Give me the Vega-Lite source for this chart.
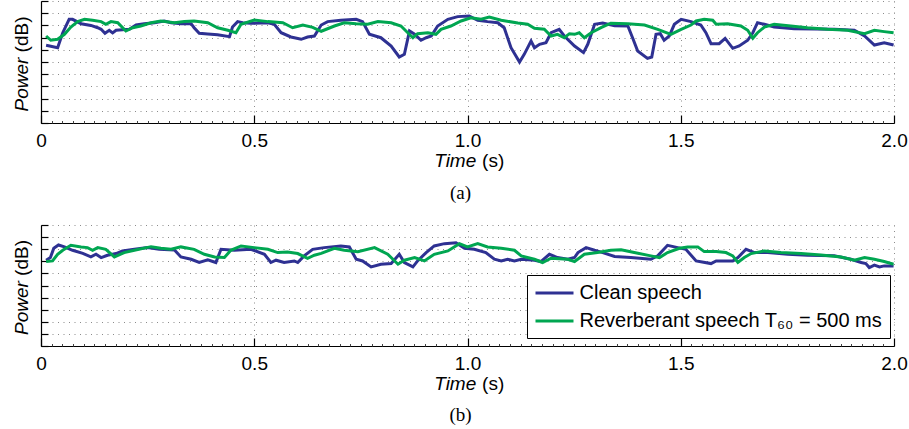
{
  "$schema": "https://vega.github.io/schema/vega-lite/v6.json",
  "padding": {"left": 11, "top": 0, "right": 0, "bottom": 0},
  "bounds": "flush",
  "spacing": 102,
  "background": "white",
  "config": {
    "view": {"stroke": null},
    "font": "Liberation Sans",
    "axis": {
      "labelFont": "Liberation Sans", "labelFontSize": 19, "labelColor": "black",
      "titleFont": "Liberation Sans", "titleFontSize": 19, "titleColor": "black", "titleFontWeight": "normal",
      "domainColor": "black", "tickColor": "black", "domainWidth": 1.2, "tickWidth": 1.2,
      "gridColor": "#777", "gridDash": [1, 4.5], "gridWidth": 1, "gridOpacity": 0.85
    }
  },
  "datasets": {
    "a": [
      {"t":0.012,"v":6.37,"s":"Clean speech"},{"t":0.039,"v":6.17,"s":"Clean speech"},{"t":0.051,"v":7.40,"s":"Clean speech"},{"t":0.066,"v":8.50,"s":"Clean speech"},{"t":0.074,"v":8.50,"s":"Clean speech"},{"t":0.094,"v":8.14,"s":"Clean speech"},{"t":0.117,"v":8.00,"s":"Clean speech"},{"t":0.133,"v":7.81,"s":"Clean speech"},{"t":0.141,"v":7.68,"s":"Clean speech"},{"t":0.150,"v":7.35,"s":"Clean speech"},{"t":0.160,"v":7.60,"s":"Clean speech"},{"t":0.168,"v":7.38,"s":"Clean speech"},{"t":0.176,"v":7.60,"s":"Clean speech"},{"t":0.191,"v":7.65,"s":"Clean speech"},{"t":0.207,"v":7.68,"s":"Clean speech"},{"t":0.223,"v":8.03,"s":"Clean speech"},{"t":0.242,"v":8.14,"s":"Clean speech"},{"t":0.266,"v":8.22,"s":"Clean speech"},{"t":0.289,"v":8.36,"s":"Clean speech"},{"t":0.305,"v":8.22,"s":"Clean speech"},{"t":0.328,"v":8.14,"s":"Clean speech"},{"t":0.352,"v":8.14,"s":"Clean speech"},{"t":0.359,"v":7.81,"s":"Clean speech"},{"t":0.371,"v":7.35,"s":"Clean speech"},{"t":0.391,"v":7.30,"s":"Clean speech"},{"t":0.414,"v":7.24,"s":"Clean speech"},{"t":0.442,"v":7.08,"s":"Clean speech"},{"t":0.449,"v":7.87,"s":"Clean speech"},{"t":0.461,"v":8.31,"s":"Clean speech"},{"t":0.473,"v":8.22,"s":"Clean speech"},{"t":0.492,"v":8.17,"s":"Clean speech"},{"t":0.532,"v":8.22,"s":"Clean speech"},{"t":0.547,"v":8.09,"s":"Clean speech"},{"t":0.563,"v":7.40,"s":"Clean speech"},{"t":0.586,"v":7.05,"s":"Clean speech"},{"t":0.610,"v":6.86,"s":"Clean speech"},{"t":0.625,"v":7.05,"s":"Clean speech"},{"t":0.641,"v":7.13,"s":"Clean speech"},{"t":0.657,"v":8.03,"s":"Clean speech"},{"t":0.672,"v":8.31,"s":"Clean speech"},{"t":0.703,"v":8.42,"s":"Clean speech"},{"t":0.739,"v":8.50,"s":"Clean speech"},{"t":0.754,"v":8.31,"s":"Clean speech"},{"t":0.770,"v":7.27,"s":"Clean speech"},{"t":0.797,"v":6.99,"s":"Clean speech"},{"t":0.821,"v":6.31,"s":"Clean speech"},{"t":0.840,"v":5.41,"s":"Clean speech"},{"t":0.852,"v":5.63,"s":"Clean speech"},{"t":0.864,"v":7.54,"s":"Clean speech"},{"t":0.876,"v":7.27,"s":"Clean speech"},{"t":0.891,"v":6.78,"s":"Clean speech"},{"t":0.903,"v":6.99,"s":"Clean speech"},{"t":0.915,"v":7.13,"s":"Clean speech"},{"t":0.930,"v":7.95,"s":"Clean speech"},{"t":0.954,"v":8.50,"s":"Clean speech"},{"t":0.977,"v":8.72,"s":"Clean speech"},{"t":1.004,"v":8.77,"s":"Clean speech"},{"t":1.024,"v":8.42,"s":"Clean speech"},{"t":1.047,"v":8.31,"s":"Clean speech"},{"t":1.071,"v":8.22,"s":"Clean speech"},{"t":1.086,"v":7.81,"s":"Clean speech"},{"t":1.102,"v":6.17,"s":"Clean speech"},{"t":1.122,"v":5.00,"s":"Clean speech"},{"t":1.133,"v":5.63,"s":"Clean speech"},{"t":1.149,"v":6.72,"s":"Clean speech"},{"t":1.157,"v":6.17,"s":"Clean speech"},{"t":1.169,"v":6.45,"s":"Clean speech"},{"t":1.184,"v":6.58,"s":"Clean speech"},{"t":1.196,"v":7.40,"s":"Clean speech"},{"t":1.215,"v":7.68,"s":"Clean speech"},{"t":1.227,"v":7.13,"s":"Clean speech"},{"t":1.251,"v":6.31,"s":"Clean speech"},{"t":1.272,"v":5.77,"s":"Clean speech"},{"t":1.282,"v":6.45,"s":"Clean speech"},{"t":1.298,"v":8.09,"s":"Clean speech"},{"t":1.317,"v":8.20,"s":"Clean speech"},{"t":1.345,"v":7.98,"s":"Clean speech"},{"t":1.376,"v":7.95,"s":"Clean speech"},{"t":1.387,"v":6.99,"s":"Clean speech"},{"t":1.399,"v":5.90,"s":"Clean speech"},{"t":1.422,"v":5.30,"s":"Clean speech"},{"t":1.432,"v":5.41,"s":"Clean speech"},{"t":1.442,"v":7.27,"s":"Clean speech"},{"t":1.452,"v":7.32,"s":"Clean speech"},{"t":1.461,"v":6.78,"s":"Clean speech"},{"t":1.473,"v":7.13,"s":"Clean speech"},{"t":1.485,"v":8.09,"s":"Clean speech"},{"t":1.501,"v":8.50,"s":"Clean speech"},{"t":1.524,"v":8.31,"s":"Clean speech"},{"t":1.547,"v":8.03,"s":"Clean speech"},{"t":1.559,"v":7.40,"s":"Clean speech"},{"t":1.571,"v":6.50,"s":"Clean speech"},{"t":1.590,"v":6.50,"s":"Clean speech"},{"t":1.604,"v":6.94,"s":"Clean speech"},{"t":1.622,"v":6.12,"s":"Clean speech"},{"t":1.637,"v":6.31,"s":"Clean speech"},{"t":1.657,"v":6.78,"s":"Clean speech"},{"t":1.669,"v":7.40,"s":"Clean speech"},{"t":1.680,"v":8.22,"s":"Clean speech"},{"t":1.696,"v":8.09,"s":"Clean speech"},{"t":1.719,"v":7.87,"s":"Clean speech"},{"t":1.766,"v":7.73,"s":"Clean speech"},{"t":1.813,"v":7.70,"s":"Clean speech"},{"t":1.860,"v":7.68,"s":"Clean speech"},{"t":1.907,"v":7.60,"s":"Clean speech"},{"t":1.931,"v":7.13,"s":"Clean speech"},{"t":1.954,"v":6.39,"s":"Clean speech"},{"t":1.977,"v":6.58,"s":"Clean speech"},{"t":1.999,"v":6.39,"s":"Clean speech"},
      {"t":0.012,"v":7.13,"s":"Reverberant speech T₆₀ = 500 ms"},{"t":0.023,"v":6.78,"s":"Reverberant speech T₆₀ = 500 ms"},{"t":0.039,"v":6.86,"s":"Reverberant speech T₆₀ = 500 ms"},{"t":0.055,"v":7.27,"s":"Reverberant speech T₆₀ = 500 ms"},{"t":0.070,"v":7.87,"s":"Reverberant speech T₆₀ = 500 ms"},{"t":0.086,"v":8.31,"s":"Reverberant speech T₆₀ = 500 ms"},{"t":0.102,"v":8.50,"s":"Reverberant speech T₆₀ = 500 ms"},{"t":0.121,"v":8.42,"s":"Reverberant speech T₆₀ = 500 ms"},{"t":0.141,"v":8.31,"s":"Reverberant speech T₆₀ = 500 ms"},{"t":0.152,"v":8.09,"s":"Reverberant speech T₆₀ = 500 ms"},{"t":0.164,"v":8.31,"s":"Reverberant speech T₆₀ = 500 ms"},{"t":0.180,"v":8.22,"s":"Reverberant speech T₆₀ = 500 ms"},{"t":0.199,"v":7.54,"s":"Reverberant speech T₆₀ = 500 ms"},{"t":0.215,"v":7.81,"s":"Reverberant speech T₆₀ = 500 ms"},{"t":0.234,"v":7.95,"s":"Reverberant speech T₆₀ = 500 ms"},{"t":0.258,"v":8.22,"s":"Reverberant speech T₆₀ = 500 ms"},{"t":0.281,"v":8.36,"s":"Reverberant speech T₆₀ = 500 ms"},{"t":0.313,"v":8.22,"s":"Reverberant speech T₆₀ = 500 ms"},{"t":0.336,"v":8.31,"s":"Reverberant speech T₆₀ = 500 ms"},{"t":0.359,"v":8.36,"s":"Reverberant speech T₆₀ = 500 ms"},{"t":0.391,"v":8.22,"s":"Reverberant speech T₆₀ = 500 ms"},{"t":0.414,"v":7.81,"s":"Reverberant speech T₆₀ = 500 ms"},{"t":0.438,"v":7.60,"s":"Reverberant speech T₆₀ = 500 ms"},{"t":0.457,"v":7.40,"s":"Reverberant speech T₆₀ = 500 ms"},{"t":0.469,"v":8.09,"s":"Reverberant speech T₆₀ = 500 ms"},{"t":0.500,"v":8.44,"s":"Reverberant speech T₆₀ = 500 ms"},{"t":0.532,"v":8.31,"s":"Reverberant speech T₆₀ = 500 ms"},{"t":0.567,"v":8.22,"s":"Reverberant speech T₆₀ = 500 ms"},{"t":0.590,"v":7.81,"s":"Reverberant speech T₆₀ = 500 ms"},{"t":0.614,"v":8.03,"s":"Reverberant speech T₆₀ = 500 ms"},{"t":0.637,"v":7.84,"s":"Reverberant speech T₆₀ = 500 ms"},{"t":0.657,"v":7.52,"s":"Reverberant speech T₆₀ = 500 ms"},{"t":0.688,"v":7.95,"s":"Reverberant speech T₆₀ = 500 ms"},{"t":0.711,"v":8.22,"s":"Reverberant speech T₆₀ = 500 ms"},{"t":0.739,"v":8.14,"s":"Reverberant speech T₆₀ = 500 ms"},{"t":0.766,"v":8.09,"s":"Reverberant speech T₆₀ = 500 ms"},{"t":0.790,"v":8.31,"s":"Reverberant speech T₆₀ = 500 ms"},{"t":0.821,"v":8.22,"s":"Reverberant speech T₆₀ = 500 ms"},{"t":0.844,"v":7.95,"s":"Reverberant speech T₆₀ = 500 ms"},{"t":0.860,"v":7.40,"s":"Reverberant speech T₆₀ = 500 ms"},{"t":0.872,"v":6.99,"s":"Reverberant speech T₆₀ = 500 ms"},{"t":0.883,"v":7.32,"s":"Reverberant speech T₆₀ = 500 ms"},{"t":0.907,"v":7.40,"s":"Reverberant speech T₆₀ = 500 ms"},{"t":0.926,"v":7.27,"s":"Reverberant speech T₆₀ = 500 ms"},{"t":0.938,"v":7.68,"s":"Reverberant speech T₆₀ = 500 ms"},{"t":0.961,"v":7.95,"s":"Reverberant speech T₆₀ = 500 ms"},{"t":0.985,"v":8.36,"s":"Reverberant speech T₆₀ = 500 ms"},{"t":1.008,"v":8.63,"s":"Reverberant speech T₆₀ = 500 ms"},{"t":1.032,"v":8.50,"s":"Reverberant speech T₆₀ = 500 ms"},{"t":1.051,"v":8.69,"s":"Reverberant speech T₆₀ = 500 ms"},{"t":1.079,"v":8.42,"s":"Reverberant speech T₆₀ = 500 ms"},{"t":1.118,"v":8.20,"s":"Reverberant speech T₆₀ = 500 ms"},{"t":1.141,"v":8.09,"s":"Reverberant speech T₆₀ = 500 ms"},{"t":1.157,"v":7.76,"s":"Reverberant speech T₆₀ = 500 ms"},{"t":1.180,"v":7.68,"s":"Reverberant speech T₆₀ = 500 ms"},{"t":1.196,"v":7.13,"s":"Reverberant speech T₆₀ = 500 ms"},{"t":1.211,"v":7.27,"s":"Reverberant speech T₆₀ = 500 ms"},{"t":1.227,"v":6.99,"s":"Reverberant speech T₆₀ = 500 ms"},{"t":1.239,"v":7.32,"s":"Reverberant speech T₆₀ = 500 ms"},{"t":1.251,"v":7.27,"s":"Reverberant speech T₆₀ = 500 ms"},{"t":1.262,"v":7.40,"s":"Reverberant speech T₆₀ = 500 ms"},{"t":1.274,"v":6.99,"s":"Reverberant speech T₆₀ = 500 ms"},{"t":1.290,"v":7.40,"s":"Reverberant speech T₆₀ = 500 ms"},{"t":1.313,"v":7.81,"s":"Reverberant speech T₆₀ = 500 ms"},{"t":1.336,"v":8.18,"s":"Reverberant speech T₆₀ = 500 ms"},{"t":1.376,"v":8.14,"s":"Reverberant speech T₆₀ = 500 ms"},{"t":1.415,"v":8.03,"s":"Reverberant speech T₆₀ = 500 ms"},{"t":1.446,"v":7.68,"s":"Reverberant speech T₆₀ = 500 ms"},{"t":1.477,"v":7.27,"s":"Reverberant speech T₆₀ = 500 ms"},{"t":1.501,"v":7.68,"s":"Reverberant speech T₆₀ = 500 ms"},{"t":1.524,"v":8.03,"s":"Reverberant speech T₆₀ = 500 ms"},{"t":1.536,"v":8.36,"s":"Reverberant speech T₆₀ = 500 ms"},{"t":1.555,"v":8.50,"s":"Reverberant speech T₆₀ = 500 ms"},{"t":1.575,"v":8.42,"s":"Reverberant speech T₆₀ = 500 ms"},{"t":1.583,"v":8.09,"s":"Reverberant speech T₆₀ = 500 ms"},{"t":1.610,"v":8.14,"s":"Reverberant speech T₆₀ = 500 ms"},{"t":1.641,"v":7.95,"s":"Reverberant speech T₆₀ = 500 ms"},{"t":1.657,"v":7.60,"s":"Reverberant speech T₆₀ = 500 ms"},{"t":1.669,"v":6.94,"s":"Reverberant speech T₆₀ = 500 ms"},{"t":1.680,"v":7.40,"s":"Reverberant speech T₆₀ = 500 ms"},{"t":1.696,"v":7.87,"s":"Reverberant speech T₆₀ = 500 ms"},{"t":1.719,"v":8.09,"s":"Reverberant speech T₆₀ = 500 ms"},{"t":1.758,"v":7.95,"s":"Reverberant speech T₆₀ = 500 ms"},{"t":1.797,"v":7.81,"s":"Reverberant speech T₆₀ = 500 ms"},{"t":1.844,"v":7.68,"s":"Reverberant speech T₆₀ = 500 ms"},{"t":1.891,"v":7.60,"s":"Reverberant speech T₆₀ = 500 ms"},{"t":1.931,"v":7.32,"s":"Reverberant speech T₆₀ = 500 ms"},{"t":1.954,"v":7.60,"s":"Reverberant speech T₆₀ = 500 ms"},{"t":1.977,"v":7.49,"s":"Reverberant speech T₆₀ = 500 ms"},{"t":1.999,"v":7.40,"s":"Reverberant speech T₆₀ = 500 ms"}
    ],
    "b": [
      {"t":0.012,"v":7.09,"s":"Clean speech"},{"t":0.022,"v":7.31,"s":"Clean speech"},{"t":0.030,"v":8.08,"s":"Clean speech"},{"t":0.041,"v":8.35,"s":"Clean speech"},{"t":0.055,"v":8.19,"s":"Clean speech"},{"t":0.074,"v":7.91,"s":"Clean speech"},{"t":0.098,"v":7.66,"s":"Clean speech"},{"t":0.117,"v":7.36,"s":"Clean speech"},{"t":0.129,"v":7.58,"s":"Clean speech"},{"t":0.141,"v":7.31,"s":"Clean speech"},{"t":0.156,"v":7.50,"s":"Clean speech"},{"t":0.176,"v":7.64,"s":"Clean speech"},{"t":0.191,"v":7.86,"s":"Clean speech"},{"t":0.219,"v":7.99,"s":"Clean speech"},{"t":0.250,"v":8.13,"s":"Clean speech"},{"t":0.277,"v":7.99,"s":"Clean speech"},{"t":0.313,"v":7.94,"s":"Clean speech"},{"t":0.328,"v":7.36,"s":"Clean speech"},{"t":0.352,"v":7.17,"s":"Clean speech"},{"t":0.371,"v":6.90,"s":"Clean speech"},{"t":0.391,"v":7.12,"s":"Clean speech"},{"t":0.410,"v":6.90,"s":"Clean speech"},{"t":0.422,"v":7.99,"s":"Clean speech"},{"t":0.453,"v":7.91,"s":"Clean speech"},{"t":0.492,"v":7.99,"s":"Clean speech"},{"t":0.524,"v":7.58,"s":"Clean speech"},{"t":0.539,"v":6.90,"s":"Clean speech"},{"t":0.551,"v":7.09,"s":"Clean speech"},{"t":0.570,"v":6.90,"s":"Clean speech"},{"t":0.594,"v":7.03,"s":"Clean speech"},{"t":0.602,"v":6.90,"s":"Clean speech"},{"t":0.617,"v":7.45,"s":"Clean speech"},{"t":0.637,"v":7.99,"s":"Clean speech"},{"t":0.664,"v":8.13,"s":"Clean speech"},{"t":0.703,"v":8.27,"s":"Clean speech"},{"t":0.723,"v":8.19,"s":"Clean speech"},{"t":0.739,"v":7.17,"s":"Clean speech"},{"t":0.754,"v":7.03,"s":"Clean speech"},{"t":0.774,"v":6.54,"s":"Clean speech"},{"t":0.797,"v":6.76,"s":"Clean speech"},{"t":0.821,"v":6.81,"s":"Clean speech"},{"t":0.840,"v":7.58,"s":"Clean speech"},{"t":0.852,"v":6.90,"s":"Clean speech"},{"t":0.872,"v":6.54,"s":"Clean speech"},{"t":0.883,"v":7.03,"s":"Clean speech"},{"t":0.903,"v":7.72,"s":"Clean speech"},{"t":0.922,"v":8.27,"s":"Clean speech"},{"t":0.946,"v":8.46,"s":"Clean speech"},{"t":0.973,"v":8.54,"s":"Clean speech"},{"t":0.993,"v":8.08,"s":"Clean speech"},{"t":1.016,"v":7.99,"s":"Clean speech"},{"t":1.043,"v":7.72,"s":"Clean speech"},{"t":1.063,"v":7.17,"s":"Clean speech"},{"t":1.079,"v":7.03,"s":"Clean speech"},{"t":1.094,"v":7.17,"s":"Clean speech"},{"t":1.110,"v":7.03,"s":"Clean speech"},{"t":1.126,"v":7.17,"s":"Clean speech"},{"t":1.157,"v":7.09,"s":"Clean speech"},{"t":1.172,"v":6.98,"s":"Clean speech"},{"t":1.192,"v":7.58,"s":"Clean speech"},{"t":1.211,"v":7.31,"s":"Clean speech"},{"t":1.235,"v":7.17,"s":"Clean speech"},{"t":1.251,"v":7.31,"s":"Clean speech"},{"t":1.259,"v":7.72,"s":"Clean speech"},{"t":1.278,"v":8.13,"s":"Clean speech"},{"t":1.298,"v":7.91,"s":"Clean speech"},{"t":1.317,"v":7.72,"s":"Clean speech"},{"t":1.345,"v":7.40,"s":"Clean speech"},{"t":1.383,"v":7.31,"s":"Clean speech"},{"t":1.430,"v":7.17,"s":"Clean speech"},{"t":1.446,"v":7.45,"s":"Clean speech"},{"t":1.469,"v":8.32,"s":"Clean speech"},{"t":1.493,"v":8.13,"s":"Clean speech"},{"t":1.512,"v":7.99,"s":"Clean speech"},{"t":1.536,"v":7.03,"s":"Clean speech"},{"t":1.571,"v":6.81,"s":"Clean speech"},{"t":1.583,"v":7.03,"s":"Clean speech"},{"t":1.622,"v":7.03,"s":"Clean speech"},{"t":1.634,"v":7.31,"s":"Clean speech"},{"t":1.653,"v":7.99,"s":"Clean speech"},{"t":1.673,"v":7.72,"s":"Clean speech"},{"t":1.704,"v":7.72,"s":"Clean speech"},{"t":1.751,"v":7.58,"s":"Clean speech"},{"t":1.797,"v":7.50,"s":"Clean speech"},{"t":1.860,"v":7.45,"s":"Clean speech"},{"t":1.899,"v":7.17,"s":"Clean speech"},{"t":1.923,"v":6.90,"s":"Clean speech"},{"t":1.934,"v":6.81,"s":"Clean speech"},{"t":1.942,"v":6.48,"s":"Clean speech"},{"t":1.954,"v":6.68,"s":"Clean speech"},{"t":1.966,"v":6.54,"s":"Clean speech"},{"t":1.977,"v":6.62,"s":"Clean speech"},{"t":1.999,"v":6.62,"s":"Clean speech"},
      {"t":0.012,"v":6.98,"s":"Reverberant speech T₆₀ = 500 ms"},{"t":0.027,"v":7.03,"s":"Reverberant speech T₆₀ = 500 ms"},{"t":0.039,"v":7.58,"s":"Reverberant speech T₆₀ = 500 ms"},{"t":0.051,"v":7.91,"s":"Reverberant speech T₆₀ = 500 ms"},{"t":0.070,"v":8.32,"s":"Reverberant speech T₆₀ = 500 ms"},{"t":0.094,"v":8.19,"s":"Reverberant speech T₆₀ = 500 ms"},{"t":0.109,"v":8.13,"s":"Reverberant speech T₆₀ = 500 ms"},{"t":0.121,"v":7.91,"s":"Reverberant speech T₆₀ = 500 ms"},{"t":0.133,"v":8.13,"s":"Reverberant speech T₆₀ = 500 ms"},{"t":0.152,"v":7.99,"s":"Reverberant speech T₆₀ = 500 ms"},{"t":0.172,"v":7.36,"s":"Reverberant speech T₆₀ = 500 ms"},{"t":0.195,"v":7.72,"s":"Reverberant speech T₆₀ = 500 ms"},{"t":0.219,"v":7.91,"s":"Reverberant speech T₆₀ = 500 ms"},{"t":0.258,"v":8.21,"s":"Reverberant speech T₆₀ = 500 ms"},{"t":0.281,"v":8.08,"s":"Reverberant speech T₆₀ = 500 ms"},{"t":0.305,"v":7.99,"s":"Reverberant speech T₆₀ = 500 ms"},{"t":0.328,"v":8.19,"s":"Reverberant speech T₆₀ = 500 ms"},{"t":0.359,"v":7.99,"s":"Reverberant speech T₆₀ = 500 ms"},{"t":0.383,"v":7.58,"s":"Reverberant speech T₆₀ = 500 ms"},{"t":0.407,"v":7.36,"s":"Reverberant speech T₆₀ = 500 ms"},{"t":0.430,"v":7.31,"s":"Reverberant speech T₆₀ = 500 ms"},{"t":0.445,"v":7.91,"s":"Reverberant speech T₆₀ = 500 ms"},{"t":0.469,"v":8.27,"s":"Reverberant speech T₆₀ = 500 ms"},{"t":0.500,"v":8.13,"s":"Reverberant speech T₆₀ = 500 ms"},{"t":0.532,"v":7.99,"s":"Reverberant speech T₆₀ = 500 ms"},{"t":0.555,"v":7.72,"s":"Reverberant speech T₆₀ = 500 ms"},{"t":0.578,"v":7.77,"s":"Reverberant speech T₆₀ = 500 ms"},{"t":0.602,"v":7.64,"s":"Reverberant speech T₆₀ = 500 ms"},{"t":0.625,"v":7.24,"s":"Reverberant speech T₆₀ = 500 ms"},{"t":0.641,"v":7.50,"s":"Reverberant speech T₆₀ = 500 ms"},{"t":0.657,"v":7.65,"s":"Reverberant speech T₆₀ = 500 ms"},{"t":0.688,"v":8.08,"s":"Reverberant speech T₆₀ = 500 ms"},{"t":0.711,"v":7.91,"s":"Reverberant speech T₆₀ = 500 ms"},{"t":0.743,"v":7.80,"s":"Reverberant speech T₆₀ = 500 ms"},{"t":0.782,"v":8.13,"s":"Reverberant speech T₆₀ = 500 ms"},{"t":0.813,"v":7.58,"s":"Reverberant speech T₆₀ = 500 ms"},{"t":0.837,"v":6.76,"s":"Reverberant speech T₆₀ = 500 ms"},{"t":0.852,"v":7.09,"s":"Reverberant speech T₆₀ = 500 ms"},{"t":0.876,"v":7.31,"s":"Reverberant speech T₆₀ = 500 ms"},{"t":0.899,"v":7.03,"s":"Reverberant speech T₆₀ = 500 ms"},{"t":0.922,"v":7.58,"s":"Reverberant speech T₆₀ = 500 ms"},{"t":0.954,"v":7.86,"s":"Reverberant speech T₆₀ = 500 ms"},{"t":0.981,"v":8.46,"s":"Reverberant speech T₆₀ = 500 ms"},{"t":1.000,"v":8.19,"s":"Reverberant speech T₆₀ = 500 ms"},{"t":1.024,"v":8.46,"s":"Reverberant speech T₆₀ = 500 ms"},{"t":1.047,"v":8.19,"s":"Reverberant speech T₆₀ = 500 ms"},{"t":1.079,"v":8.08,"s":"Reverberant speech T₆₀ = 500 ms"},{"t":1.110,"v":7.91,"s":"Reverberant speech T₆₀ = 500 ms"},{"t":1.126,"v":7.45,"s":"Reverberant speech T₆₀ = 500 ms"},{"t":1.157,"v":7.17,"s":"Reverberant speech T₆₀ = 500 ms"},{"t":1.176,"v":6.90,"s":"Reverberant speech T₆₀ = 500 ms"},{"t":1.196,"v":7.25,"s":"Reverberant speech T₆₀ = 500 ms"},{"t":1.235,"v":7.17,"s":"Reverberant speech T₆₀ = 500 ms"},{"t":1.251,"v":6.98,"s":"Reverberant speech T₆₀ = 500 ms"},{"t":1.274,"v":7.58,"s":"Reverberant speech T₆₀ = 500 ms"},{"t":1.305,"v":7.72,"s":"Reverberant speech T₆₀ = 500 ms"},{"t":1.336,"v":7.91,"s":"Reverberant speech T₆₀ = 500 ms"},{"t":1.360,"v":7.95,"s":"Reverberant speech T₆₀ = 500 ms"},{"t":1.391,"v":7.72,"s":"Reverberant speech T₆₀ = 500 ms"},{"t":1.430,"v":7.45,"s":"Reverberant speech T₆₀ = 500 ms"},{"t":1.450,"v":7.31,"s":"Reverberant speech T₆₀ = 500 ms"},{"t":1.469,"v":7.72,"s":"Reverberant speech T₆₀ = 500 ms"},{"t":1.497,"v":8.08,"s":"Reverberant speech T₆₀ = 500 ms"},{"t":1.516,"v":8.19,"s":"Reverberant speech T₆₀ = 500 ms"},{"t":1.540,"v":8.19,"s":"Reverberant speech T₆₀ = 500 ms"},{"t":1.555,"v":7.80,"s":"Reverberant speech T₆₀ = 500 ms"},{"t":1.583,"v":7.80,"s":"Reverberant speech T₆₀ = 500 ms"},{"t":1.606,"v":7.72,"s":"Reverberant speech T₆₀ = 500 ms"},{"t":1.622,"v":7.45,"s":"Reverberant speech T₆₀ = 500 ms"},{"t":1.634,"v":6.90,"s":"Reverberant speech T₆₀ = 500 ms"},{"t":1.649,"v":7.31,"s":"Reverberant speech T₆₀ = 500 ms"},{"t":1.665,"v":7.64,"s":"Reverberant speech T₆₀ = 500 ms"},{"t":1.696,"v":7.86,"s":"Reverberant speech T₆₀ = 500 ms"},{"t":1.735,"v":7.72,"s":"Reverberant speech T₆₀ = 500 ms"},{"t":1.782,"v":7.64,"s":"Reverberant speech T₆₀ = 500 ms"},{"t":1.829,"v":7.53,"s":"Reverberant speech T₆₀ = 500 ms"},{"t":1.876,"v":7.36,"s":"Reverberant speech T₆₀ = 500 ms"},{"t":1.907,"v":7.09,"s":"Reverberant speech T₆₀ = 500 ms"},{"t":1.931,"v":7.31,"s":"Reverberant speech T₆₀ = 500 ms"},{"t":1.954,"v":7.17,"s":"Reverberant speech T₆₀ = 500 ms"},{"t":1.977,"v":6.98,"s":"Reverberant speech T₆₀ = 500 ms"},{"t":1.999,"v":6.76,"s":"Reverberant speech T₆₀ = 500 ms"}
    ]
  },
  "resolve": {"scale": {"x": "independent", "y": "independent", "color": "independent"}},
  "vconcat": [
    {
      "width": 853, "height": 122,
      "data": {"name": "a"},
      "resolve": {"axis": {"x": "independent", "y": "independent"}},
      "layer": [
        {
          "mark": {"type": "line", "strokeWidth": 3, "interpolate": "linear"},
          "encoding": {
            "x": {"field": "t", "type": "quantitative", "scale": {"domain": [0, 2], "nice": false, "zero": false},
              "axis": {"orient": "bottom", "values": [0, 0.5, 1, 1.5, 2], "labelExpr": "datum.value == 0 ? '0' : format(datum.value, '.1f')", "tickSize": -8, "labelPadding": 16, "labelFlush": false, "labelOverlap": false, "grid": true,
                "title": "Time", "titleFontStyle": "italic", "titleAlign": "left", "titleBaseline": "alphabetic", "titleAngle": 0, "titleX": 392.7, "titleY": 43.4}},
            "y": {"field": "v", "type": "quantitative", "scale": {"domain": [0, 10], "nice": false, "zero": false},
              "axis": {"orient": "left", "values": [0, 1, 2, 3, 4, 5, 6, 7, 8, 9, 10], "labels": false, "tickSize": -7, "grid": true,
                "title": "Power", "titleFontStyle": "italic", "titleAngle": 270, "titleAlign": "left", "titleBaseline": "alphabetic", "titleX": -14, "titleY": 110}},
            "color": {"field": "s", "type": "nominal", "scale": {"domain": ["Clean speech", "Reverberant speech T₆₀ = 500 ms"], "range": ["#2e3192", "#00a651"]}, "legend": null}
          }
        },
        {
          "mark": {"type": "point", "opacity": 0},
          "encoding": {
            "x": {"field": "t", "type": "quantitative", "scale": {"domain": [0, 2], "nice": false, "zero": false},
              "axis": {"orient": "bottom", "values": [0.025,0.05,0.075,0.1,0.125,0.15,0.175,0.2,0.225,0.25,0.275,0.3,0.325,0.35,0.375,0.4,0.425,0.45,0.475,0.525,0.55,0.575,0.6,0.625,0.65,0.675,0.7,0.725,0.75,0.775,0.8,0.825,0.85,0.875,0.9,0.925,0.95,0.975,1.025,1.05,1.075,1.1,1.125,1.15,1.175,1.2,1.225,1.25,1.275,1.3,1.325,1.35,1.375,1.4,1.425,1.45,1.475,1.525,1.55,1.575,1.6,1.625,1.65,1.675,1.7,1.725,1.75,1.775,1.8,1.825,1.85,1.875,1.9,1.925,1.95,1.975], "labels": false, "domain": false, "grid": false, "tickSize": -2.5, "tickWidth": 1, "tickColor": "#444",
                "title": "(s)", "titleAlign": "left", "titleBaseline": "alphabetic", "titleAngle": 0, "titleX": 440.6, "titleY": 43.4}},
            "y": {"field": "v", "type": "quantitative", "scale": {"domain": [0, 10], "nice": false, "zero": false},
              "axis": {"orient": "left", "labels": false, "ticks": false, "domain": false, "grid": false,
                "title": "(dB)", "titleAngle": 270, "titleAlign": "left", "titleBaseline": "alphabetic", "titleX": -14, "titleY": 50.9}}
          }
        },
        {
          "mark": {"type": "point", "opacity": 0},
          "encoding": {
            "x": {"field": "t", "type": "quantitative", "scale": {"domain": [0, 2], "nice": false, "zero": false},
              "axis": {"orient": "bottom", "labels": false, "ticks": false, "domain": false, "grid": false,
                "title": "(a)", "titleFont": "Liberation Serif", "titleFontSize": 19, "titleAlign": "center", "titleBaseline": "alphabetic", "titleAngle": 0, "titleX": 419, "titleY": 75.5}},
            "y": {"field": "v", "type": "quantitative", "scale": {"domain": [0, 10], "nice": false, "zero": false}, "axis": null}
          }
        }
      ]
    },
    {
      "width": 853, "height": 121,
      "data": {"name": "b"},
      "resolve": {"axis": {"x": "independent", "y": "independent"}},
      "layer": [
        {
          "mark": {"type": "line", "strokeWidth": 3, "interpolate": "linear"},
          "encoding": {
            "x": {"field": "t", "type": "quantitative", "scale": {"domain": [0, 2], "nice": false, "zero": false},
              "axis": {"orient": "bottom", "values": [0, 0.5, 1, 1.5, 2], "labelExpr": "datum.value == 0 ? '0' : format(datum.value, '.1f')", "tickSize": -8, "labelPadding": 16, "labelFlush": false, "labelOverlap": false, "grid": true,
                "title": "Time", "titleFontStyle": "italic", "titleAlign": "left", "titleBaseline": "alphabetic", "titleAngle": 0, "titleX": 392.7, "titleY": 43.4}},
            "y": {"field": "v", "type": "quantitative", "scale": {"domain": [0, 10], "nice": false, "zero": false},
              "axis": {"orient": "left", "values": [0, 1, 2, 3, 4, 5, 6, 7, 8, 9, 10], "labels": false, "tickSize": -7, "grid": true,
                "title": "Power", "titleFontStyle": "italic", "titleAngle": 270, "titleAlign": "left", "titleBaseline": "alphabetic", "titleX": -14, "titleY": 109.5}},
            "color": {"field": "s", "type": "nominal", "scale": {"domain": ["Clean speech", "Reverberant speech T₆₀ = 500 ms"], "range": ["#2e3192", "#00a651"]},
              "legend": {"orient": "none", "legendX": 486, "legendY": 50, "title": null, "strokeColor": "black", "fillColor": "white", "padding": 7,
                "symbolType": "M-2,0L2,0", "symbolStrokeWidth": 3, "symbolSize": 361, "symbolOffset": 9.5, "labelFont": "Liberation Sans", "labelFontSize": 20, "labelColor": "black", "labelOffset": 14, "labelLimit": 0, "rowPadding": 7}}
          }
        },
        {
          "mark": {"type": "point", "opacity": 0},
          "encoding": {
            "x": {"field": "t", "type": "quantitative", "scale": {"domain": [0, 2], "nice": false, "zero": false},
              "axis": {"orient": "bottom", "values": [0.025,0.05,0.075,0.1,0.125,0.15,0.175,0.2,0.225,0.25,0.275,0.3,0.325,0.35,0.375,0.4,0.425,0.45,0.475,0.525,0.55,0.575,0.6,0.625,0.65,0.675,0.7,0.725,0.75,0.775,0.8,0.825,0.85,0.875,0.9,0.925,0.95,0.975,1.025,1.05,1.075,1.1,1.125,1.15,1.175,1.2,1.225,1.25,1.275,1.3,1.325,1.35,1.375,1.4,1.425,1.45,1.475,1.525,1.55,1.575,1.6,1.625,1.65,1.675,1.7,1.725,1.75,1.775,1.8,1.825,1.85,1.875,1.9,1.925,1.95,1.975], "labels": false, "domain": false, "grid": false, "tickSize": -2.5, "tickWidth": 1, "tickColor": "#444",
                "title": "(s)", "titleAlign": "left", "titleBaseline": "alphabetic", "titleAngle": 0, "titleX": 440.6, "titleY": 43.4}},
            "y": {"field": "v", "type": "quantitative", "scale": {"domain": [0, 10], "nice": false, "zero": false},
              "axis": {"orient": "left", "labels": false, "ticks": false, "domain": false, "grid": false,
                "title": "(dB)", "titleAngle": 270, "titleAlign": "left", "titleBaseline": "alphabetic", "titleX": -14, "titleY": 50.4}}
          }
        },
        {
          "mark": {"type": "point", "opacity": 0},
          "encoding": {
            "x": {"field": "t", "type": "quantitative", "scale": {"domain": [0, 2], "nice": false, "zero": false},
              "axis": {"orient": "bottom", "labels": false, "ticks": false, "domain": false, "grid": false,
                "title": "(b)", "titleFont": "Liberation Serif", "titleFontSize": 19, "titleAlign": "center", "titleBaseline": "alphabetic", "titleAngle": 0, "titleX": 419, "titleY": 74.5}},
            "y": {"field": "v", "type": "quantitative", "scale": {"domain": [0, 10], "nice": false, "zero": false}, "axis": null}
          }
        }
      ]
    }
  ]
}
